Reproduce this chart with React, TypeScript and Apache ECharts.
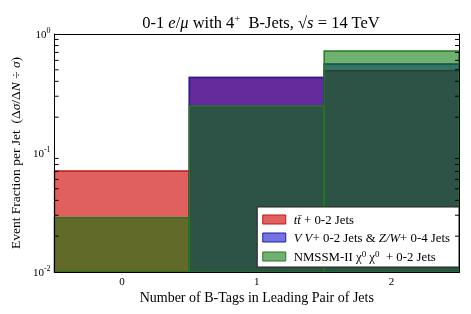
import React, { useEffect, useRef } from "react";
import * as echarts from "echarts";

const categories = ["0", "1", "2"];
const ttbar = [0.0706, 0.43, 0.49];
const vv = [null, 0.43, 0.56];
const nmssm = [0.0285, 0.248, 0.72];
const minorTickValues = [0.02, 0.03, 0.04, 0.05, 0.06, 0.07, 0.08, 0.09, 0.2, 0.3, 0.4, 0.5, 0.6, 0.7, 0.8, 0.9];
const seriesNames = ["tt", "vv", "nm"];
const Y_MIN = 0.01;
const Y_MAX = 1;

const SERIF = "'Liberation Serif', 'DejaVu Serif', serif";

const styles: Record<string, { fill: string; stroke: string }> = {
  tt: { fill: "rgba(208,10,10,0.65)", stroke: "#c01818" },
  vv: { fill: "rgba(0,0,205,0.55)", stroke: "#2020a0" },
  nm: { fill: "rgba(0,114,0,0.56)", stroke: "#237a23" },
};

function barSeries(name: string, values: (number | null)[]) {
  const st = styles[name];
  return {
    type: "custom",
    name,
    xAxisIndex: 0,
    yAxisIndex: 0,
    itemStyle: { color: st.fill, borderColor: st.stroke },
    data: values.map((v, i) => [i, v == null ? "-" : v]),
    encode: { x: 0, y: 1 },
    renderItem: (params: any, api: any) => {
      const v = api.value(1);
      if (v == null || isNaN(v)) return null;
      const idx = api.value(0);
      const top = api.coord([idx, v]);
      const bottom = api.coord([idx, Y_MIN]);
      const w = api.size([1, 0])[0];
      return {
        type: "rect",
        shape: { x: top[0] - w / 2, y: top[1], width: w, height: bottom[1] - top[1] },
        style: { fill: st.fill, stroke: st.stroke, lineWidth: 1.5 },
      };
    },
  };
}

export default function App() {
  const ref = useRef<HTMLDivElement>(null);
  useEffect(() => {
    const chart = echarts.init(ref.current!, null, { renderer: "svg" });
    chart.setOption({
      animation: false,
      title: {
        text: "0-1 {i|e}/{i|μ} with 4{sup|+}  B-Jets, √{o|s} = 14 TeV",
        left: 256,
        textAlign: "center",
        top: 8,
        textStyle: {
          fontFamily: SERIF,
          fontSize: 16.5,
          fontWeight: "normal",
          color: "#000",
          rich: {
            i: { fontFamily: SERIF, fontSize: 16.5, fontStyle: "italic" },
            sup: { fontFamily: SERIF, fontSize: 10.5, padding: [0, 0, 8, 0] },
            o: { fontFamily: SERIF, fontSize: 16.5, fontStyle: "italic" },
          },
        },
      },
      grid: { left: 53, right: 12, top: 34, bottom: 42, containLabel: false },
      legend: {
        orient: "vertical",
        right: 12,
        bottom: 47,
        backgroundColor: "#fff",
        borderColor: "#222",
        borderWidth: 1,
        borderRadius: 0,
        padding: [6, 9, 4, 5],
        itemWidth: 23,
        itemHeight: 9,
        itemGap: 5,
        icon: "rect",
        data: seriesNames.map((n) => ({
          name: n,
          itemStyle: { color: styles[n].fill, borderColor: styles[n].stroke, borderWidth: 1 },
        })),
        formatter: (name: string) => {
          if (name === "tt") return "{sp|}{i|tt̄} + 0-2 Jets";
          if (name === "vv") return "{sp|}{i|V V}+ 0-2 Jets & {i|Z/W}+ 0-4 Jets";
          return "{sp|}NMSSM-II χ{sup|0} χ{sup|0}  + 0-2 Jets";
        },
        textStyle: {
          fontFamily: SERIF,
          fontSize: 12.8,
          color: "#000",
          rich: {
            sp: { width: 3 },
            i: { fontFamily: SERIF, fontSize: 12.8, fontStyle: "italic" },
            sup: { fontFamily: SERIF, fontSize: 9, padding: [0, 0, 6, 0] },
          },
        },
      },
      xAxis: [
        {
          type: "category",
          data: categories,
          position: "bottom",
          name: "Number of B-Tags in Leading Pair of Jets",
          nameLocation: "middle",
          nameGap: 17,
          nameTextStyle: { fontFamily: SERIF, fontSize: 14, color: "#000" },
          axisLine: { lineStyle: { color: "#000", width: 1 } },
          axisTick: { inside: true, length: 6, lineStyle: { color: "#000" } },
          axisLabel: { fontFamily: SERIF, fontSize: 11, color: "#000", margin: 3 },
          splitLine: { show: false },
          z: 10,
        },
        {
          type: "category",
          data: categories,
          position: "top",
          axisLine: { lineStyle: { color: "#000", width: 1 } },
          axisTick: { inside: true, length: 6, lineStyle: { color: "#000" } },
          axisLabel: { show: false },
          splitLine: { show: false },
          z: 10,
        },
      ],
      yAxis: [
        {
          type: "log",
          logBase: 10,
          min: Y_MIN,
          max: Y_MAX,
          position: "left",
          name: "Event Fraction per Jet  (Δ{i|σ}/Δ{i|N} ÷ {i|σ})",
          nameLocation: "middle",
          nameGap: 32,
          nameRotate: 90,
          nameTextStyle: {
            fontFamily: SERIF,
            fontSize: 13.5,
            color: "#000",
            rich: { i: { fontFamily: SERIF, fontSize: 13.5, fontStyle: "italic" } },
          },
          axisLine: { show: true, lineStyle: { color: "#000", width: 1 } },
          axisTick: { inside: true, length: 8, lineStyle: { color: "#000" } },
          axisLabel: {
            fontFamily: SERIF,
            fontSize: 11,
            color: "#000",
            margin: 4,
            formatter: (v: number) => {
              const e = Math.round(Math.log10(v));
              return "10{s|" + e + "}";
            },
            rich: { s: { fontFamily: SERIF, fontSize: 8, padding: [0, 0, 7, 0] } },
          },
          splitLine: { show: false },
          z: 10,
        },
        {
          type: "log",
          logBase: 10,
          min: Y_MIN,
          max: Y_MAX,
          position: "right",
          axisLine: { show: true, lineStyle: { color: "#000", width: 1 } },
          axisTick: { inside: true, length: 8, lineStyle: { color: "#000" } },
          axisLabel: { show: false },
          splitLine: { show: false },
          z: 10,
        },
      ],
      series: [
        barSeries("tt", ttbar),
        barSeries("vv", vv),
        barSeries("nm", nmssm),
        {
          type: "custom",
          name: "minor",
          xAxisIndex: 0,
          yAxisIndex: 0,
          silent: true,
          data: minorTickValues.map((v) => [0, v]),
          renderItem: (params: any, api: any) => {
            const cs = params.coordSys;
            const y = api.coord([0, api.value(1)])[1];
            return {
              type: "group",
              children: [
                { type: "line", shape: { x1: cs.x, y1: y, x2: cs.x + 4, y2: y }, style: { stroke: "#000", lineWidth: 1 } },
                { type: "line", shape: { x1: cs.x + cs.width - 4, y1: y, x2: cs.x + cs.width, y2: y }, style: { stroke: "#000", lineWidth: 1 } },
              ],
            };
          },
          z: 10,
        },
      ],
    });
    return () => chart.dispose();
  }, []);
  return <div ref={ref} style={{ position: "fixed", left: 0, top: 0, width: 471, height: 314 }} />;
}
